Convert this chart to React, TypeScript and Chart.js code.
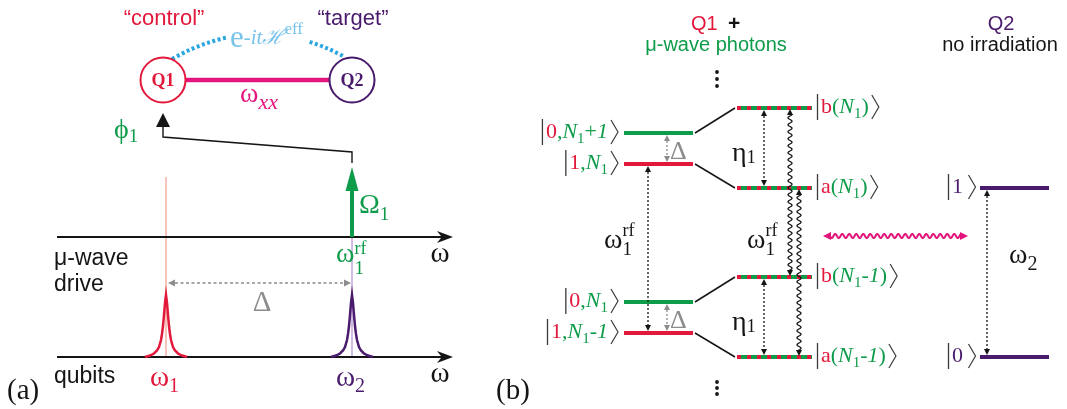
import React, { useEffect, useRef } from "react";
import { Chart, registerables } from "chart.js";

Chart.register(...registerables);

const W = 1067;
const H = 409;

// ---- Panel (a): frequency axes and spectral lines ----
const axisY = [237, 357]; // μ-wave drive axis, qubit axis
const axisX = [57, 453]; // start, arrow tip
const qubitFreqX = [166, 352]; // ω1, ω2
const driveFreqX = 352; // ω1^rf
const driveTipY = 167;
const peakTopY = 295;
// Lorentzian line shape: offset from line centre and height above the axis
const peakDx = [-21, -16, -12, -9, -7, -5, -4, -3, -2, -1, 0, 1, 2, 3, 4, 5, 7, 9, 12, 16, 21];
const peakH = [0, 1.5, 3.5, 6.5, 10, 17, 23, 31, 42, 54, 62, 54, 42, 31, 23, 17, 10, 6.5, 3.5, 1.5, 0];
const qubitX = [163, 352]; // Q1, Q2 node centres
const qubitY = 80;
const qubitR = 22.5;
const qubitNames = ["Q1", "Q2"];
const roleNames = ["\u201ccontrol\u201d", "\u201ctarget\u201d"];
const feedbackPath = [
  [352, 163],
  [352, 152],
  [163, 137],
  [163, 126],
];

// ---- Panel (b): energy levels ----
const bareGreenY = [133, 302]; // |0,N1+1>, |0,N1>
const bareRedY = [164, 333]; // |1,N1>, |1,N1-1>
const bareX = [624, 693];
const dressedY = [108, 188, 277, 357]; // b(N1), a(N1), b(N1-1), a(N1-1)
const dressedX = [737, 812];
const q2LevelY = [188, 357]; // |1>, |0>
const q2X = [980, 1049];

const SERIF = '"Liberation Serif", "DejaVu Serif", serif';
const SANS = '"Liberation Sans", Arial, sans-serif';
const RED = "#e2193b";
const GREEN = "#0e9c4a";
const PURPLE = "#4a1a6c";
const PINK = "#e3157c";
const GRAY = "#8c8c8c";
const CYAN = "#2aa7df";
const LIGHTBLUE = "#78c3ea";
const INK = "#151515";

type Run = {
  t?: string;
  c?: string;
  s?: number;
  it?: boolean;
  b?: boolean;
  dy?: number;
  dx?: number;
  f?: string;
  sub?: Run;
  sup?: Run;
};

function fontOf(r: Run) {
  return `${r.it ? "italic " : ""}${r.b ? "bold " : ""}${r.s || 22}px ${r.f || SERIF}`;
}

function runW(ctx: CanvasRenderingContext2D, r: Run): number {
  if (r.sub || r.sup) {
    return Math.max(r.sub ? runW(ctx, r.sub) : 0, r.sup ? runW(ctx, r.sup) : 0);
  }
  ctx.font = fontOf(r);
  return ctx.measureText(r.t || "").width + (r.dx || 0);
}

function drawRun(ctx: CanvasRenderingContext2D, x: number, y: number, r: Run, color: string) {
  if (r.sub || r.sup) {
    if (r.sub) drawRun(ctx, x, y, r.sub, color);
    if (r.sup) drawRun(ctx, x, y, r.sup, color);
    return runW(ctx, r);
  }
  ctx.font = fontOf(r);
  ctx.fillStyle = r.c || color;
  ctx.fillText(r.t || "", x + (r.dx || 0), y + (r.dy || 0));
  return runW(ctx, r);
}

function drawRuns(
  ctx: CanvasRenderingContext2D,
  x: number,
  y: number,
  runs: Run[],
  color: string,
  align: "left" | "center" | "right" = "left"
) {
  const total = runs.reduce((a, r) => a + runW(ctx, r), 0);
  let cx = align === "right" ? x - total : align === "center" ? x - total / 2 : x;
  ctx.textAlign = "left";
  ctx.textBaseline = "alphabetic";
  for (const r of runs) cx += drawRun(ctx, cx, y, r, color);
}

function drawKet(
  ctx: CanvasRenderingContext2D,
  x: number,
  y: number,
  runs: Run[],
  align: "left" | "right"
) {
  const rw = runs.reduce((a, r) => a + runW(ctx, r), 0);
  const total = 5 + rw + 11;
  const x0 = align === "right" ? x - total : x;
  ctx.save();
  ctx.strokeStyle = "#3a3a3a";
  ctx.lineWidth = 1.3;
  ctx.beginPath();
  ctx.moveTo(x0 + 1.5, y - 19);
  ctx.lineTo(x0 + 1.5, y + 7);
  ctx.stroke();
  drawRuns(ctx, x0 + 5, y, runs, INK, "left");
  const bx = x0 + 5 + rw + 3;
  ctx.strokeStyle = "#3a3a3a";
  ctx.lineWidth = 1.2;
  ctx.beginPath();
  ctx.moveTo(bx, y - 18);
  ctx.lineTo(bx + 7, y - 6);
  ctx.lineTo(bx, y + 6);
  ctx.stroke();
  ctx.restore();
}

function head(
  ctx: CanvasRenderingContext2D,
  x: number,
  y: number,
  ang: number,
  len: number,
  half: number,
  color: string,
  notch = 0
) {
  const ca = Math.cos(ang);
  const sa = Math.sin(ang);
  const bx = x - ca * len;
  const by = y - sa * len;
  ctx.fillStyle = color;
  ctx.beginPath();
  ctx.moveTo(x, y);
  ctx.lineTo(bx - sa * half, by + ca * half);
  ctx.lineTo(x - ca * len * (1 - notch), y - sa * len * (1 - notch));
  ctx.lineTo(bx + sa * half, by - ca * half);
  ctx.closePath();
  ctx.fill();
}

function dottedArrow(
  ctx: CanvasRenderingContext2D,
  x1: number,
  y1: number,
  x2: number,
  y2: number,
  color: string,
  dash: number[],
  width: number,
  hl = 6,
  hh = 3
) {
  const ang = Math.atan2(y2 - y1, x2 - x1);
  const ca = Math.cos(ang);
  const sa = Math.sin(ang);
  ctx.save();
  ctx.strokeStyle = color;
  ctx.lineWidth = width;
  ctx.setLineDash(dash);
  ctx.beginPath();
  ctx.moveTo(x1 + ca * hl, y1 + sa * hl);
  ctx.lineTo(x2 - ca * hl, y2 - sa * hl);
  ctx.stroke();
  ctx.setLineDash([]);
  head(ctx, x2, y2, ang, hl, hh, color);
  head(ctx, x1, y1, ang + Math.PI, hl, hh, color);
  ctx.restore();
}

function wavyArrow(
  ctx: CanvasRenderingContext2D,
  x1: number,
  y1: number,
  x2: number,
  y2: number,
  color: string,
  width: number,
  amp: number,
  wl: number,
  hl: number,
  hh: number
) {
  const L = Math.hypot(x2 - x1, y2 - y1);
  const ca = (x2 - x1) / L;
  const sa = (y2 - y1) / L;
  ctx.save();
  ctx.strokeStyle = color;
  ctx.lineWidth = width;
  ctx.beginPath();
  for (let s = hl - 1; s <= L - hl + 1; s += 0.5) {
    const o = amp * Math.sin((2 * Math.PI * s) / wl);
    const px = x1 + ca * s - sa * o;
    const py = y1 + sa * s + ca * o;
    if (s === hl - 1) ctx.moveTo(px, py);
    else ctx.lineTo(px, py);
  }
  ctx.stroke();
  const ang = Math.atan2(sa, ca);
  head(ctx, x2, y2, ang, hl, hh, color);
  head(ctx, x1, y1, ang + Math.PI, hl, hh, color);
  ctx.restore();
}

// higher `order` is painted first (underneath)
function seg(points: number[][], color: string, width: number, dash: number[] = [], order = 1) {
  return {
    data: points.map(([x, y]) => ({ x, y })),
    showLine: true,
    borderColor: color,
    backgroundColor: color,
    borderWidth: width,
    borderDash: dash,
    pointRadius: 0,
    pointHoverRadius: 0,
    tension: 0,
    fill: false,
    order,
    borderCapStyle: "butt" as const,
    borderJoinStyle: "miter" as const,
  };
}

function buildDatasets() {
  const ds: any[] = [];
  // thin guide lines at the transition frequencies
  ds.push(seg([[qubitFreqX[0], 177], [qubitFreqX[0], axisY[1]]], "rgba(240,150,130,0.75)", 1.5, [], 3));
  ds.push(seg([[qubitFreqX[1], axisY[0]], [qubitFreqX[1], axisY[1]]], "rgba(190,160,215,0.9)", 1.5, [], 3));
  // frequency axes
  axisY.forEach((y) => ds.push(seg([[axisX[0], y], [axisX[1] - 6, y]], INK, 2, [], 2)));
  // qubit spectral lines
  [RED, PURPLE].forEach((c, i) =>
    ds.push(
      seg(
        peakDx.map((dx, k) => [qubitFreqX[i] + dx, axisY[1] - peakH[k] * ((axisY[1] - peakTopY) / 62)]),
        c,
        2.5
      )
    )
  );
  // microwave drive
  ds.push(seg([[driveFreqX, axisY[0]], [driveFreqX, driveTipY + 20]], GREEN, 4));
  // phase feedback path
  ds.push(seg(feedbackPath, INK, 1.4));
  // exchange coupling between the qubits
  ds.push(seg([[qubitX[0] + qubitR, qubitY], [qubitX[1] - qubitR, qubitY]], PINK, 4.5));
  // bare levels
  bareGreenY.forEach((y) => ds.push(seg([[bareX[0], y], [bareX[1], y]], GREEN, 4)));
  bareRedY.forEach((y) => ds.push(seg([[bareX[0], y], [bareX[1], y]], RED, 4)));
  // dressed levels: green with red dashes on top
  dressedY.forEach((y) => ds.push(seg([[dressedX[0], y], [dressedX[1], y]], GREEN, 4, [], 2)));
  dressedY.forEach((y) => ds.push(seg([[dressedX[0], y], [dressedX[1], y]], RED, 4, [4, 6], 0)));
  // bare -> dressed connectors
  [0, 1].forEach((k) => {
    ds.push(seg([[bareX[1] + 2, bareGreenY[k]], [dressedX[0] - 2, dressedY[2 * k]]], INK, 1.5));
    ds.push(seg([[bareX[1] + 2, bareRedY[k]], [dressedX[0] - 2, dressedY[2 * k + 1]]], INK, 1.5));
  });
  // Q2 levels
  q2LevelY.forEach((y) => ds.push(seg([[q2X[0], y], [q2X[1], y]], PURPLE, 4)));
  return ds;
}

const N1: Run[] = [
  { t: "N", c: GREEN, it: true },
  { t: "1", c: GREEN, s: 15, dy: 5 },
];

const annotations = {
  id: "diagramText",
  beforeDraw(chart: any) {
    const ctx = chart.ctx;
    ctx.save();
    ctx.fillStyle = "#ffffff";
    ctx.fillRect(0, 0, chart.width, chart.height);
    ctx.restore();
  },
  afterDatasetsDraw(chart: any) {
    const ctx: CanvasRenderingContext2D = chart.ctx;
    const X = (v: number) => chart.scales.x.getPixelForValue(v);
    const Y = (v: number) => chart.scales.y.getPixelForValue(v);
    ctx.save();

    // ---------- Panel (a) ----------
    // axis arrowheads
    axisY.forEach((y) => head(ctx, X(axisX[1]), Y(y), 0, 16, 6, INK, 0.3));
    // drive arrowhead
    head(ctx, X(driveFreqX), Y(driveTipY), -Math.PI / 2, 24, 6.5, GREEN);
    // feedback arrowhead
    head(ctx, X(feedbackPath[3][0]), Y(113), -Math.PI / 2, 14, 7, INK);

    // effective-evolution arc
    ctx.save();
    ctx.strokeStyle = CYAN;
    ctx.lineWidth = 4;
    ctx.setLineDash([3, 2.5]);
    ctx.beginPath();
    ctx.moveTo(X(172), Y(59));
    ctx.quadraticCurveTo(X(258), Y(10), X(345), Y(57));
    ctx.stroke();
    ctx.restore();
    // white backing behind the arc label
    ctx.fillStyle = "#ffffff";
    ctx.fillRect(X(228), Y(20), 80, 30);

    // qubit nodes
    [RED, PURPLE].forEach((c, i) => {
      ctx.strokeStyle = c;
      ctx.lineWidth = 2;
      ctx.beginPath();
      ctx.arc(X(qubitX[i]), Y(qubitY), qubitR, 0, Math.PI * 2);
      ctx.stroke();
      ctx.font = `bold 18px ${SERIF}`;
      ctx.fillStyle = c;
      ctx.textAlign = "center";
      ctx.textBaseline = "middle";
      ctx.fillText(qubitNames[i], X(qubitX[i]), Y(qubitY + 1));
      ctx.font = `22px ${SANS}`;
      ctx.textBaseline = "alphabetic";
      ctx.fillText(roleNames[i], X(qubitX[i] + 1), Y(25));
    });

    drawRuns(ctx, X(230), Y(47), [
      { t: "e", s: 31 },
      { t: "-", s: 21, dy: -3 },
      { t: "it", s: 21, it: true, dy: -3 },
      { t: "\u210b", s: 21, it: true, dy: -3, f: '"DejaVu Serif", serif' },
      { t: "eff", s: 17, dy: -13 },
    ], LIGHTBLUE);

    drawRuns(ctx, X(240), Y(102), [{ t: "\u03c9", s: 28 }, { t: "xx", s: 22, it: true, dy: 7 }], PINK);
    drawRuns(ctx, X(114), Y(138), [{ t: "\u03d5", s: 28 }, { t: "1", s: 19, dy: 4 }], GREEN);
    drawRuns(ctx, X(359), Y(213), [{ t: "\u03a9", s: 28 }, { t: "1", s: 19, dy: 7 }], GREEN);
    drawRuns(ctx, X(336), Y(262), [
      { t: "\u03c9", s: 28 },
      { sub: { t: "1", s: 19, dy: 12 }, sup: { t: "rf", s: 18, dy: -8 } },
    ], GREEN);

    ctx.font = `29px ${SERIF}`;
    ctx.fillStyle = INK;
    ctx.textAlign = "center";
    axisY.forEach((y) => ctx.fillText("\u03c9", X(440), Y(y + 25)));

    ctx.textAlign = "left";
    ctx.font = `23px ${SANS}`;
    ctx.fillStyle = INK;
    ctx.fillText("\u03bc-wave", X(54), Y(265));
    ctx.fillText("drive", X(54), Y(291));
    ctx.fillText("qubits", X(54), Y(383));

    dottedArrow(ctx, X(qubitFreqX[0] + 2), Y(283), X(qubitFreqX[1] - 1), Y(283), GRAY, [3, 2.5], 1.4, 7, 3.5);
    ctx.font = `29px ${SERIF}`;
    ctx.fillStyle = GRAY;
    ctx.textAlign = "center";
    ctx.fillText("\u0394", X(262), Y(311));

    drawRuns(ctx, X(qubitFreqX[0] - 16), Y(386), [{ t: "\u03c9", s: 29 }, { t: "1", s: 20, dy: 6 }], RED);
    drawRuns(ctx, X(qubitFreqX[1] - 16), Y(386), [{ t: "\u03c9", s: 29 }, { t: "2", s: 20, dy: 6 }], PURPLE);

    ctx.font = `29px ${SERIF}`;
    ctx.fillStyle = INK;
    ctx.textAlign = "left";
    ctx.fillText("(a)", X(7), Y(399));
    ctx.fillText("(b)", X(496), Y(399));

    // ---------- Panel (b) ----------
    ctx.font = `20px ${SANS}`;
    ctx.fillStyle = RED;
    ctx.fillText("Q1", X(691), Y(30));
    ctx.font = `bold 21px ${SANS}`;
    ctx.fillStyle = INK;
    ctx.fillText("+", X(728), Y(30));
    ctx.textAlign = "center";
    ctx.font = `20px ${SANS}`;
    ctx.fillStyle = GREEN;
    ctx.fillText("\u03bc-wave photons", X(716), Y(51));
    ctx.fillStyle = PURPLE;
    ctx.fillText("Q2", X(1001), Y(30));
    ctx.fillStyle = INK;
    ctx.fillText("no irradiation", X(1000), Y(51));

    // vertical ellipses
    ctx.fillStyle = INK;
    [72, 79, 86, 382, 388, 394].forEach((y) => {
      ctx.beginPath();
      ctx.arc(X(717), Y(y), 1.9, 0, Math.PI * 2);
      ctx.fill();
    });

    // bare-state kets
    const kr = 619;
    drawKet(ctx, X(kr), Y(bareGreenY[0] + 5), [
      { t: "0", c: RED },
      { t: ",", c: GREEN },
      ...N1,
      { t: "+", c: GREEN },
      { t: "1", c: GREEN, it: true },
    ], "right");
    drawKet(ctx, X(kr), Y(bareRedY[0] + 5), [{ t: "1", c: RED }, { t: ",", c: GREEN }, ...N1], "right");
    drawKet(ctx, X(kr), Y(bareGreenY[1] + 5), [{ t: "0", c: RED }, { t: ",", c: GREEN }, ...N1], "right");
    drawKet(ctx, X(kr), Y(bareRedY[1] + 5), [
      { t: "1", c: RED },
      { t: ",", c: GREEN },
      ...N1,
      { t: "-", c: GREEN },
      { t: "1", c: GREEN, it: true },
    ], "right");

    // dressed-state kets
    const dressedLabels: Run[][] = [
      [{ t: "b", c: RED }, { t: "(", c: GREEN }, ...N1, { t: ")", c: GREEN }],
      [{ t: "a", c: RED }, { t: "(", c: GREEN }, ...N1, { t: ")", c: GREEN }],
      [{ t: "b", c: RED }, { t: "(", c: GREEN }, ...N1, { t: "-", c: GREEN }, { t: "1", c: GREEN, it: true }, { t: ")", c: GREEN }],
      [{ t: "a", c: RED }, { t: "(", c: GREEN }, ...N1, { t: "-", c: GREEN }, { t: "1", c: GREEN, it: true }, { t: ")", c: GREEN }],
    ];
    dressedY.forEach((y, i) => drawKet(ctx, X(816), Y(y + 5), dressedLabels[i], "left"));

    // Q2 kets
    drawKet(ctx, X(947), Y(q2LevelY[0] + 5), [{ t: "1", c: PURPLE }, { t: " ", s: 10 }], "left");
    drawKet(ctx, X(947), Y(q2LevelY[1] + 5), [{ t: "0", c: PURPLE }, { t: " ", s: 10 }], "left");

    // detuning arrows
    [0, 1].forEach((k) => {
      dottedArrow(ctx, X(667), Y(bareGreenY[k] + 2), X(667), Y(bareRedY[k] - 2), GRAY, [2, 2], 1.3, 6, 3);
      ctx.font = `26px ${SERIF}`;
      ctx.fillStyle = GRAY;
      ctx.textAlign = "left";
      ctx.fillText("\u0394", X(670), Y(bareRedY[k] - 5));
    });
    // drive photon energy
    dottedArrow(ctx, X(648), Y(bareRedY[0] + 2), X(648), Y(bareRedY[1] - 2), INK, [2, 2], 1.3, 6, 3);
    // dressed splittings
    [0, 2].forEach((k) => {
      dottedArrow(ctx, X(764), Y(dressedY[k] + 2), X(764), Y(dressedY[k + 1] - 2), INK, [2, 2], 1.3, 6, 3);
      drawRuns(ctx, X(732), Y((dressedY[k] + dressedY[k + 1]) / 2 + 13), [{ t: "\u03b7", s: 28 }, { t: "1", s: 18, dy: 2 }], INK);
    });
    // photon transitions between manifolds
    wavyArrow(ctx, X(790), Y(dressedY[0] + 1), X(790), Y(dressedY[2] - 1), INK, 1.3, 2, 7, 6, 3);
    wavyArrow(ctx, X(799), Y(dressedY[1] + 1), X(799), Y(dressedY[3] - 1), INK, 1.3, 2, 7, 6, 3);
    [604, 747].forEach((x) =>
      drawRuns(ctx, X(x), Y(248), [
        { t: "\u03c9", s: 28 },
        { sub: { t: "1", s: 19, dy: 7 }, sup: { t: "rf", s: 18, dy: -12 } },
      ], INK)
    );

    // coupling to the target qubit
    wavyArrow(ctx, X(823), Y(236), X(968), Y(236), PINK, 2, 2, 7, 8, 4);
    dottedArrow(ctx, X(987), Y(q2LevelY[0] + 2), X(987), Y(q2LevelY[1] - 2), INK, [2, 2], 1.3, 6, 3);
    drawRuns(ctx, X(1009), Y(263), [{ t: "\u03c9", s: 28 }, { t: "2", s: 20, dy: 7 }], INK);

    ctx.restore();
  },
};

export default function App() {
  const ref = useRef<HTMLCanvasElement | null>(null);
  useEffect(() => {
    if (!ref.current) return;
    const chart = new Chart(ref.current, {
      type: "scatter",
      data: { datasets: buildDatasets() },
      options: {
        animation: false,
        responsive: false,
        maintainAspectRatio: false,
        devicePixelRatio: 1,
        layout: { padding: 0 },
        events: [],
        plugins: { legend: { display: false }, tooltip: { enabled: false } },
        scales: {
          x: { type: "linear", min: 0, max: W, display: false },
          y: { type: "linear", min: 0, max: H, reverse: true, display: false },
        },
      },
      plugins: [annotations],
    });
    return () => chart.destroy();
  }, []);
  return (
    <div style={{ position: "fixed", left: 0, top: 0, width: W, height: H, background: "#fff" }}>
      <canvas ref={ref} width={W} height={H} style={{ display: "block", width: W, height: H }} />
    </div>
  );
}
